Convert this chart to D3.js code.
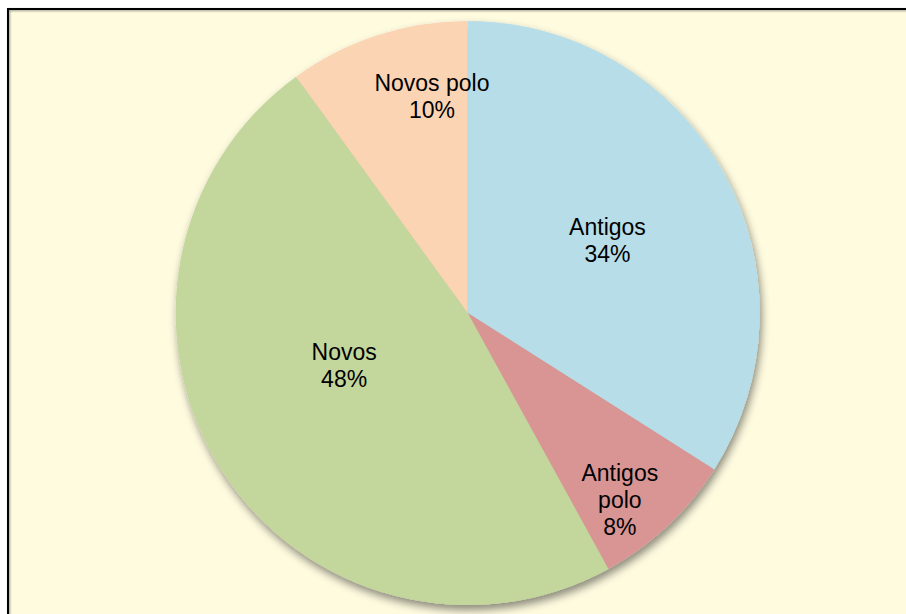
<!DOCTYPE html>
<html>
<head>
<meta charset="utf-8">
<script src="https://cdn.jsdelivr.net/npm/d3@7"></script>
<style>
  html, body { margin: 0; padding: 0; background: #ffffff; }
  svg { display: block; }
</style>
</head>
<body>
<svg id="chart" width="906" height="614"></svg>
<script>
// ---- data ----
const categories = ["Antigos", "Antigos polo", "Novos", "Novos polo"];
const values = [34, 8, 48, 10];
const labelLines = [["Antigos", "34%"], ["Antigos", "polo", "8%"], ["Novos", "48%"], ["Novos polo", "10%"]];
const colors = ["#B7DDE8", "#D99594", "#C3D69B", "#FBD4B4"];

// ---- layout ----
const W = 906, H = 614;
const cx = 467.7, cy = 313, R = 292;
// label placement: fraction along the slice's angular span, fraction of radius
const labelAngleFrac = [0.51, 0.64, 0.554, 0.74];
const labelRadiusFrac = [0.54, 0.825, 0.46, 0.753];
const lineH = 27;

const svg = d3.select("#chart");
const defs = svg.append("defs");
const f = defs.append("filter").attr("id", "shadow")
  .attr("x", "-10%").attr("y", "-10%").attr("width", "120%").attr("height", "120%");
f.append("feDropShadow").attr("dx", 2).attr("dy", 5).attr("stdDeviation", 4)
  .attr("flood-color", "#000").attr("flood-opacity", 0.45);
const fb = defs.append("filter").attr("id", "bshadow")
  .attr("x", "-5%").attr("y", "-5%").attr("width", "110%").attr("height", "110%");
fb.append("feDropShadow").attr("dx", 1).attr("dy", 1).attr("stdDeviation", 1)
  .attr("flood-color", "#000").attr("flood-opacity", 0.4);

// chart area background + frame (only top & left are inside the window)
svg.append("rect").attr("x", 8).attr("y", 9).attr("width", W).attr("height", H)
  .attr("fill", "#FEFBDF");
svg.append("path").attr("d", `M8,${H + 5} L8,9 L${W + 5},9`)
  .attr("fill", "none").attr("stroke", "#000").attr("stroke-width", 2)
  .attr("filter", "url(#bshadow)");

const pie = d3.pie().sort(null).value(d => d)(values);
const arc = d3.arc().innerRadius(0).outerRadius(R);

const g = svg.append("g").attr("transform", `translate(${cx},${cy})`);
const slices = g.append("g").attr("filter", "url(#shadow)");
slices.selectAll("path").data(pie).join("path")
  .attr("d", arc)
  .attr("fill", (d, i) => colors[i]);

const labels = g.append("g")
  .attr("font-family", "'Liberation Sans', Arial, sans-serif")
  .attr("font-size", 23)
  .attr("fill", "#000")
  .attr("text-anchor", "middle");

pie.forEach((d, i) => {
  const a = d.startAngle + labelAngleFrac[i] * (d.endAngle - d.startAngle);
  const r = labelRadiusFrac[i] * R;
  const x = r * Math.sin(a), y = -r * Math.cos(a);
  const lines = labelLines[i];
  const t = labels.append("text").attr("x", x).attr("y", y);
  lines.forEach((ln, j) => {
    t.append("tspan")
      .attr("x", x)
      .attr("y", y + (j - (lines.length - 1) / 2) * lineH + 8.2)
      .text(ln);
  });
});
</script>
</body>
</html>
